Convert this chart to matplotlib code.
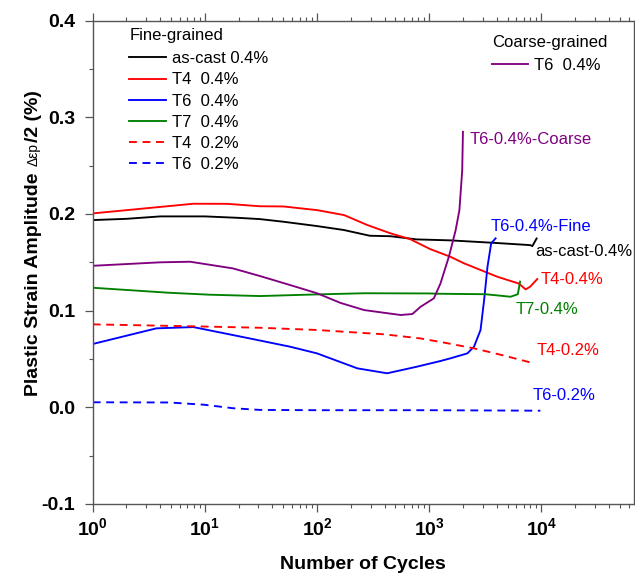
import matplotlib
matplotlib.use('Agg')
import matplotlib.pyplot as plt
from matplotlib.ticker import FuncFormatter, MultipleLocator, LogLocator, NullFormatter
import numpy as np

plt.rcParams['font.family'] = ['Liberation Sans', 'DejaVu Sans']
plt.rcParams['mathtext.fontset'] = 'custom'
plt.rcParams['mathtext.rm'] = 'Liberation Sans'
plt.rcParams['mathtext.bf'] = 'Liberation Sans:bold'

# ---------------- data ----------------
cyc_ascast = [1, 2, 4, 10, 20, 31, 50, 100, 174, 295, 452, 776, 1550, 3980, 7940, 8320, 9080]
amp_ascast = [0.1937, 0.195, 0.1975, 0.1975, 0.196, 0.1947, 0.192, 0.1875, 0.1834, 0.1775,
              0.177, 0.1737, 0.1727, 0.170, 0.1678, 0.1668, 0.1747]

cyc_t4_04 = [1, 7.9, 15.8, 31, 50, 100, 174, 282, 452, 676, 1020, 1550, 2040, 4070, 6310, 7240, 7940, 9200]
amp_t4_04 = [0.2006, 0.2106, 0.2105, 0.208, 0.2078, 0.204, 0.1989, 0.1885, 0.18, 0.174,
             0.1637, 0.1557, 0.149, 0.135, 0.128, 0.122, 0.1247, 0.1327]

cyc_t6_04 = [1, 3.7, 7.9, 25, 57.5, 100, 229, 422, 776, 1260, 1550, 2190, 2510, 2870, 3090, 3310, 3570, 3910]
amp_t6_04 = [0.0655, 0.0817, 0.083, 0.0713, 0.0627, 0.0558, 0.0403, 0.0352, 0.042, 0.0479,
             0.0507, 0.0558, 0.0627, 0.080, 0.111, 0.1454, 0.1696, 0.1748]

cyc_t7_04 = [1, 4.8, 11, 31, 81, 100, 263, 1000, 1175, 3160, 5320, 6170, 6460]
amp_t7_04 = [0.1237, 0.1185, 0.1165, 0.1151, 0.1165, 0.1168, 0.118, 0.1178, 0.1175, 0.117,
             0.1144, 0.117, 0.130]

cyc_t4_02 = [1, 7.9, 31, 100, 398, 832, 1320, 2510, 4470, 7940]
amp_t4_02 = [0.0858, 0.0838, 0.0823, 0.080, 0.0755, 0.0713, 0.0672, 0.061, 0.054, 0.0465]

cyc_t6_02 = [1, 4.8, 9.8, 18, 31, 100, 1000, 9800]
amp_t6_02 = [0.0052, 0.005, 0.0027, -0.001, -0.0027, -0.003, -0.003, -0.0035]

cyc_coarse = [1, 4, 7.4, 17.8, 31, 57.5, 100, 162, 263, 556, 708, 838, 1100, 1260, 1500, 1720, 1860, 1970, 2000]
amp_coarse = [0.1464, 0.150, 0.1506, 0.1437, 0.1358, 0.1265, 0.118, 0.108, 0.1006, 0.0955,
              0.0965, 0.104, 0.1127, 0.128, 0.156, 0.183, 0.204, 0.245, 0.285]

fine_labels = ['as-cast 0.4%', 'T4  0.4%', 'T6  0.4%', 'T7  0.4%', 'T4  0.2%', 'T6  0.2%']
coarse_label = 'T6  0.4%'
end_labels = ['as-cast-0.4%', 'T4-0.4%', 'T6-0.4%-Fine', 'T7-0.4%', 'T4-0.2%', 'T6-0.2%', 'T6-0.4%-Coarse']

# ---------------- figure ----------------
W, H = 635, 574
fig = plt.figure(figsize=(W / 100, H / 100), dpi=100)
ax = fig.add_axes([0.146, 0.122, 0.8524, 0.842])

RED, BLUE, GREEN, PURPLE = '#ff0000', '#0000ff', '#008000', '#800080'
lw = 1.35
dash = (4.2, 3.0)

l1, = ax.plot(cyc_ascast, amp_ascast, color='black', lw=lw)
l2, = ax.plot(cyc_t4_04, amp_t4_04, color=RED, lw=lw)
l3, = ax.plot(cyc_t6_04, amp_t6_04, color=BLUE, lw=lw)
l4, = ax.plot(cyc_t7_04, amp_t7_04, color=GREEN, lw=lw)
l5, = ax.plot(cyc_t4_02, amp_t4_02, color=RED, lw=lw, dashes=dash)
l6, = ax.plot(cyc_t6_02, amp_t6_02, color=BLUE, lw=lw, dashes=dash)
l7, = ax.plot(cyc_coarse, amp_coarse, color=PURPLE, lw=lw)

ax.set_xscale('log')
ax.set_xlim(1, 6.7e4)
ax.set_ylim(-0.1, 0.4)

ax.yaxis.set_major_locator(MultipleLocator(0.1))
ax.yaxis.set_minor_locator(MultipleLocator(0.05))
ax.xaxis.set_major_locator(LogLocator(base=10, numticks=10))
ax.xaxis.set_minor_locator(LogLocator(base=10, subs=np.arange(2, 10), numticks=20))
ax.xaxis.set_minor_formatter(NullFormatter())
ax.xaxis.set_major_formatter(FuncFormatter(lambda v, p: r'$\mathbf{10^{%d}}$' % int(round(np.log10(v)))))
ax.yaxis.set_major_formatter(FuncFormatter(lambda v, p: ('%.1f' % v).replace('-0.0', '0.0')))

spine_c = '#555555'
for s in ax.spines.values():
    s.set_color(spine_c)
    s.set_linewidth(1.0)

ax.tick_params(axis='both', which='major', direction='out', length=5.5, width=0.9, color=spine_c,
               labelsize=14, pad=4)
ax.tick_params(axis='both', which='minor', direction='out', length=3, width=0.8, color=spine_c)
ax.tick_params(axis='x', which='both', top=True, labeltop=False)
for lab in ax.get_xticklabels() + ax.get_yticklabels():
    lab.set_fontweight('bold')
ax.tick_params(axis='y', which='major', pad=7)

ax.set_xlabel('Number of Cycles', fontsize=14, fontweight='bold', labelpad=12)

# end-of-curve labels
fs = 12
ax.text(8900, 0.161, end_labels[0], color='black', fontsize=fs, va='center', ha='left')
ax.text(9870, 0.1327, end_labels[1], color=RED, fontsize=fs, va='center', ha='left')
ax.text(3525, 0.1875, end_labels[2], color=BLUE, fontsize=fs, va='center', ha='left')
ax.text(5900, 0.1013, end_labels[3], color=GREEN, fontsize=fs, va='center', ha='left')
ax.text(9080, 0.0585, end_labels[4], color=RED, fontsize=fs, va='center', ha='left')
ax.text(8310, 0.0127, end_labels[5], color=BLUE, fontsize=fs, va='center', ha='left')
ax.text(2305, 0.277, end_labels[6], color=PURPLE, fontsize=fs, va='center', ha='left')

# legends
leg1 = ax.legend([l1, l2, l3, l4, l5, l6], fine_labels, title='Fine-grained', frameon=False,
                 loc='upper left', bbox_to_anchor=(129.3 / W, 1 - 28 / H), bbox_transform=fig.transFigure,
                 fontsize=fs, title_fontsize=fs, handlelength=2.2, handletextpad=0.35,
                 labelspacing=0.37, borderpad=0, borderaxespad=0, alignment='left')
leg1._legend_box.sep = 6
ax.add_artist(leg1)
leg2 = ax.legend([l7], [coarse_label], title='Coarse-grained', frameon=False,
                 loc='upper left', bbox_to_anchor=(491.7 / W, 1 - 35 / H), bbox_transform=fig.transFigure,
                 fontsize=fs, title_fontsize=fs, handlelength=2.2, handletextpad=0.35,
                 labelspacing=0.37, borderpad=0, borderaxespad=0, alignment='left')
leg2._legend_box.sep = 6

# composite y label
fig.canvas.draw()
renderer = fig.canvas.get_renderer()
parts = [('Plastic Strain Amplitude', 14, 'bold', 6),
         ('\u0394\u03b5p', 10, 'normal', 2),
         ('/2 (%)', 14, 'bold', 0)]
x_base = 37.5
y_cur = H - 396
for s, size, weight, gap in parts:
    t = fig.text(x_base / W, y_cur / H, s, rotation=90, rotation_mode='anchor',
                 ha='left', va='baseline', fontsize=size, fontweight=weight)
    bb = t.get_window_extent(renderer)
    y_cur = bb.y1 + gap

fig.savefig('out.png', dpi=100)
